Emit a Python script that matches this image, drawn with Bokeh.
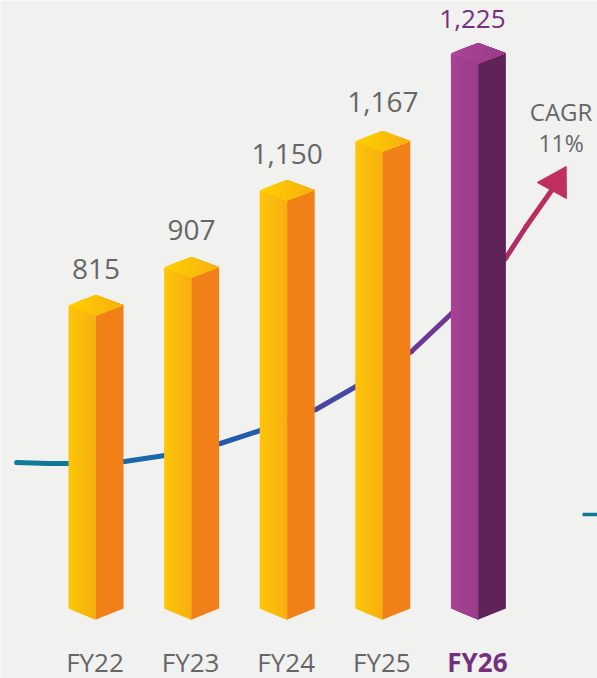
from bokeh.plotting import figure
from bokeh.models import Range1d
from bokeh.embed import file_html
from bokeh.resources import INLINE

years = ["FY22", "FY23", "FY24", "FY25", "FY26"]
values = ["815", "907", "1,150", "1,167", "1,225"]
# drawn heights (the infographic is not to scale)
drawn_heights = [304, 342, 419, 468, 556]
# CAGR curve: position in bar steps, height above the base line
curve_x = [-0.83, -0.5, -0.28, 0.0, 0.3, 0.72, 1.3, 1.72, 2.3, 2.72, 3.3, 3.72, 4.0, 4.29, 4.5, 4.765]
curve_y = [157, 156, 156, 156, 158, 164, 176, 189, 210, 233, 268, 306, 330, 362, 393, 429]
curve_rgb = [(15,122,150),(15,122,150),(15,122,150),(18,115,160),(25,105,170),(30,98,172),(35,90,172),(45,85,170),
             (70,70,165),(90,60,160),(110,55,150),(130,50,135),(150,45,120),(175,45,100),(185,45,95),(192,48,94)]
arrow_xs = [4.615, 4.918, 4.92]
arrow_ys = [437, 453, 421]
stub_x = [5.09, 5.25]
stub_y = [105, 105]

YEL_A, YEL_B = (253, 196, 10), (247, 174, 16)
PUR_A, PUR_B = (166, 65, 148), (152, 60, 136)
SIDES = ["#f18019"] * 4 + ["#5f2358"]
TOP_Y = [(255, 208, 0), (247, 174, 18)]
TOP_P = [(172, 68, 152), (150, 60, 135)]
GREY = "#666666"
PURPLE = "#74307f"
FONT = "Open Sans"

STEP = 95.6
X0 = 95.5
BASE = 619
W = 27.5 / STEP
DH = 10.3
BG = "#f1f1f0"

p = figure(width=597, height=678, output_backend="svg", toolbar_location=None,
           x_range=Range1d((0 - X0) / STEP, (597 - X0) / STEP),
           y_range=Range1d(BASE - 678, BASE - 0),
           background_fill_color=BG, border_fill_color=BG,
           min_border=0, outline_line_color=None)
p.axis.visible = False
p.grid.visible = False

def hexc(c):
    return "#%02x%02x%02x" % tuple(int(round(v)) for v in c)

def mix(a, b, t):
    return tuple(a[k] + (b[k] - a[k]) * t for k in range(3))

# curve behind the bars
p.segment(curve_x[:-1], curve_y[:-1], curve_x[1:], curve_y[1:],
          line_color=[hexc(c) for c in curve_rgb[:-1]], line_width=5, line_cap="round")
p.patch(arrow_xs, arrow_ys, fill_color="#c0305f", line_color="#c0305f", line_width=1)
p.line(stub_x, stub_y, line_color="#0f7a96", line_width=3.5)

STRIPS = 10
for i, h in enumerate(drawn_heights):
    a, b = (PUR_A, PUR_B) if i == 4 else (YEL_A, YEL_B)
    ta, tb = TOP_P if i == 4 else TOP_Y
    for s in range(STRIPS):
        u = s / STRIPS
        x0 = i - W + W * u
        lift = DH * (1 - u)
        p.patch([x0, i, i, x0], [h + lift, h, 0, 11 * (1 - u)],
                fill_color=hexc(mix(a, b, u)), line_color=None)
    p.patch([i, i + W, i + W, i], [h, h + DH, 11, 0], fill_color=SIDES[i], line_color=None)
    for s in range(2 * STRIPS):
        u = s / (2 * STRIPS)
        xl = i - W + 2 * W * u
        if xl <= i:
            lo = h + DH * (i - xl) / W
            hi = h + 2 * DH - DH * (i - xl) / W
            xs = [xl, i, i + W, i, xl]
            ys = [lo, h, h + DH, h + 2 * DH, hi]
        else:
            lo = h + DH * (xl - i) / W
            hi = h + 2 * DH - DH * (xl - i) / W
            xs = [xl, i + W, xl]
            ys = [lo, h + DH, hi]
        p.patch(xs, ys, fill_color=hexc(mix(ta, tb, u)), line_color=None)

idx = list(range(5))
label_gap = [26, 27, 26, 29]
p.text(idx[:4], [h + 2 * DH + g for h, g in zip(drawn_heights[:4], label_gap)], text=values[:4],
       text_font={"value": FONT}, text_font_size="28px", text_align="center", text_baseline="middle",
       text_color=GREY)
p.text(idx[4:], [drawn_heights[4] + 2 * DH + 24], text=values[4:], x_offset=-6,
       text_font={"value": FONT}, text_font_size="26px", text_align="center", text_baseline="middle",
       text_color=PURPLE)

p.text(idx[:4], [BASE - 661] * 4, text=years[:4], text_font={"value": FONT}, text_font_size="26px",
       text_align="center", text_baseline="middle", text_color=GREY, x_offset=-1)
p.text(idx[4:], [BASE - 661], text=years[4:], text_font={"value": FONT}, text_font_size="26px",
       text_font_style="bold", text_align="center", text_baseline="middle", text_color=PURPLE, x_offset=-1)

p.text([4.865], [BASE - 111], text=["CAGR"], text_font={"value": FONT},
       text_font_size="24px", text_align="center", text_baseline="middle", text_color=GREY)
p.text([4.865], [BASE - 142], text=["11%"], text_font={"value": FONT},
       text_font_size="23px", text_align="center", text_baseline="middle", text_color=GREY)

open("out.html", "w").write(file_html(p, INLINE))
